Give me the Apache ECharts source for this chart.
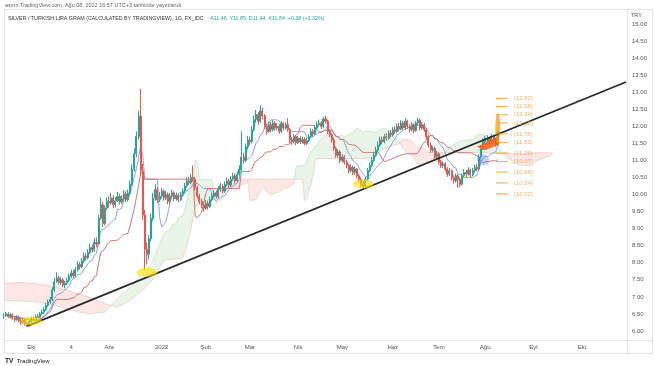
<!DOCTYPE html>
<html><head><meta charset="utf-8">
<script src="https://cdn.jsdelivr.net/npm/echarts@6/dist/echarts.min.js"></script>
<style>html,body{margin:0;padding:0;background:#fff}#c{width:654px;height:366px}</style>
</head><body><div id="c"></div>
<script>
// ---- data ----
const firstOpen = 6.40;
const closes = [
6.45,6.50,6.42,6.48,6.38,6.33,6.40,6.30,6.25,6.32,
6.22,6.18,6.28,6.35,6.32,6.42,6.40,6.50,6.55,6.62,
6.75,6.85,6.92,7.20,7.45,7.55,7.42,7.50,7.35,7.40,
7.48,7.60,7.70,7.62,7.80,7.95,7.88,8.05,8.20,8.15,
8.30,8.45,8.38,8.60,8.55,9.30,9.70,9.15,9.60,9.80,
9.75,9.90,9.70,9.82,9.95,9.78,9.88,10.02,9.85,10.05,
10.30,10.75,11.20,11.70,12.30,10.70,9.40,8.40,8.25,8.70,
9.30,9.90,10.15,9.85,9.95,10.10,9.90,10.00,9.80,9.95,
10.05,9.88,9.98,9.85,10.00,10.10,10.25,10.40,10.35,10.50,
10.45,10.20,9.95,9.80,9.70,9.60,9.75,9.65,9.85,9.95,
10.05,9.95,10.15,10.25,10.10,10.30,10.40,10.28,10.45,10.55,
10.40,10.60,10.75,11.10,11.00,11.40,11.60,11.55,11.90,12.20,
12.35,12.15,12.45,12.30,12.00,11.85,12.05,11.90,12.10,11.95,
12.00,11.85,12.08,11.95,12.05,11.90,11.60,11.55,11.70,11.52,
11.65,11.55,11.62,11.50,11.58,11.70,11.85,11.78,11.95,12.05,
12.10,12.00,12.22,12.15,11.85,11.75,11.60,11.35,11.15,11.25,
11.00,11.10,10.95,10.85,10.70,10.80,10.65,10.75,10.55,10.45,
10.30,10.25,10.45,10.70,10.85,11.00,11.15,11.30,11.45,11.60,
11.55,11.70,11.65,11.80,11.75,11.90,11.85,12.00,11.92,12.10,
11.95,12.15,12.00,11.90,12.05,11.88,12.10,12.18,11.95,12.05,
11.90,11.70,11.45,11.30,11.35,11.10,11.20,10.95,10.85,10.90,
10.75,10.60,10.70,10.50,10.40,10.55,10.45,10.30,10.55,10.65,
10.60,10.72,10.58,10.70,10.80,10.75,11.10,11.35,11.55,11.60,
11.65,11.55,11.70,11.62,11.46,11.84];
const highs = [
6.52,6.56,6.55,6.53,6.51,6.43,6.46,6.44,6.36,6.37,
6.35,6.27,6.33,6.40,6.42,6.48,6.50,6.56,6.62,6.70,
6.82,6.92,7.00,7.28,7.55,7.72,7.62,7.58,7.55,7.47,
7.56,7.68,7.80,7.78,7.88,8.05,8.02,8.14,8.30,8.28,
8.40,8.56,8.52,8.72,8.75,9.40,9.90,9.78,9.68,9.92,
9.95,10.05,9.98,9.92,10.08,10.02,9.98,10.12,10.10,10.15,
10.42,10.88,11.35,11.85,12.45,13.10,10.90,9.55,8.60,8.80,
9.45,10.05,10.30,10.22,10.08,10.20,10.15,10.10,10.06,10.04,
10.14,10.10,10.06,10.04,10.08,10.18,10.34,10.50,10.52,10.60,
10.85,10.52,10.26,10.02,9.88,9.78,9.84,9.82,9.94,10.04,
10.14,10.12,10.24,10.34,10.30,10.38,10.50,10.46,10.54,10.64,
10.62,10.68,10.86,11.85,11.22,11.50,11.72,11.70,12.00,12.32,
12.48,12.42,12.62,12.55,12.36,12.08,12.14,12.12,12.18,12.15,
12.10,12.06,12.15,12.12,12.12,12.24,11.95,11.68,11.78,11.75,
11.72,11.70,11.70,11.68,11.66,11.78,11.94,11.92,12.04,12.14,
12.20,12.16,12.28,12.32,12.20,11.92,11.80,11.66,11.40,11.32,
11.30,11.18,11.15,11.02,10.90,10.88,10.85,10.82,10.78,10.60,
10.50,10.40,10.52,10.78,10.94,11.10,11.24,11.40,11.55,11.70,
11.70,11.78,11.80,11.88,11.90,11.98,12.00,12.08,12.10,12.18,
12.16,12.24,12.20,12.06,12.12,12.10,12.16,12.25,12.22,12.12,
12.10,11.95,11.75,11.52,11.42,11.40,11.28,11.24,11.02,10.98,
10.95,10.80,10.78,10.74,10.56,10.62,10.60,10.50,10.62,10.74,
10.72,10.80,10.76,10.78,10.88,10.90,11.18,11.45,11.65,11.72,
11.74,11.70,11.78,11.76,11.66,11.85];
const lows = [
6.36,6.41,6.38,6.37,6.33,6.27,6.30,6.26,6.19,6.20,
6.16,6.13,6.15,6.24,6.28,6.29,6.36,6.37,6.46,6.50,
6.58,6.70,6.80,6.88,7.15,7.40,7.36,7.35,7.28,7.25,
7.34,7.44,7.55,7.55,7.58,7.74,7.80,7.84,7.98,8.06,
8.10,8.25,8.30,8.32,8.45,8.50,9.25,9.05,9.10,9.55,
9.62,9.70,9.60,9.62,9.78,9.70,9.72,9.82,9.78,9.80,
10.00,10.25,10.68,11.10,11.62,10.55,9.25,7.80,7.95,8.10,
8.62,9.22,9.82,9.75,9.78,9.88,9.82,9.84,9.72,9.74,
9.88,9.80,9.82,9.78,9.80,9.95,10.05,10.20,10.28,10.30,
10.38,10.12,9.88,9.72,9.60,9.50,9.55,9.56,9.60,9.80,
9.90,9.88,9.90,10.08,10.04,10.05,10.24,10.20,10.22,10.40,
10.32,10.35,10.55,10.70,10.90,10.95,11.32,11.45,11.50,11.85,
12.10,12.05,12.10,12.20,11.92,11.76,11.80,11.82,11.85,11.88,
11.88,11.78,11.80,11.88,11.90,11.84,11.52,11.46,11.50,11.45,
11.48,11.48,11.50,11.44,11.45,11.54,11.65,11.70,11.74,11.90,
12.00,11.92,11.96,12.08,11.78,11.68,11.52,11.28,11.08,11.08,
10.92,10.94,10.88,10.78,10.62,10.64,10.58,10.58,10.48,10.38,
10.22,10.15,10.20,10.40,10.65,10.80,10.95,11.10,11.25,11.40,
11.48,11.50,11.58,11.60,11.68,11.70,11.78,11.80,11.85,11.88,
11.88,11.90,11.92,11.82,11.85,11.80,11.84,12.04,11.88,11.90,
11.84,11.62,11.38,11.22,11.24,11.02,11.04,10.88,10.78,10.78,
10.68,10.52,10.54,10.42,10.32,10.35,10.20,10.22,10.26,10.50,
10.52,10.56,10.50,10.54,10.64,10.68,10.72,11.05,11.30,11.48,
11.52,11.48,11.50,11.55,11.40,11.44];

// cloud before full indicator history is available
const earlyCloudBars = [0, 8, 16, 24, 32, 40, 48, 54, 60, 66, 70, 76];
const earlyCloudA    = [6.90, 6.88, 6.85, 6.75, 6.60, 6.50, 6.55, 6.95, 7.28, 7.70, 7.95, 8.85];
const earlyCloudB    = [7.40, 7.42, 7.38, 7.30, 7.15, 7.00, 6.80, 6.70, 6.90, 7.20, 7.44, 8.05];

const totalBars = 297;
const monthLabels    = ['Eki','4','Ara','2022','Şub','Mar','Nis','May','Haz','Tem','Ağu','Eyl','Eki'];
const monthLabelBars = [13, 32, 50, 75, 96, 117, 140, 161, 185, 207, 229, 252, 275];

const trendLine = [[11, 6.14], [296, 13.30]];
const yellowMarks = [[13, 6.29], [68, 7.72], [171, 10.31]];
const blueMarks = [[228, 11.02]];
const orangeStroke = [[235, 11.95]];
const orangeShape = [[225, 11.40], [235, 11.70], [235, 11.45], [229, 11.30]];
const levelBar = 237;
const levels = [12.82, 12.58, 12.34, 12.10, 11.78, 11.53, 11.22, 10.97, 10.66, 10.34, 10.02];

// ---- build ----
const n = closes.length;
const candles = closes.map((c, i) => {
  const o = i === 0 ? firstOpen : closes[i - 1];
  return [o, c, lows[i], highs[i]];
});
function mid(i, len) {
  let hi = -Infinity, lo = Infinity;
  for (let j = Math.max(0, i - len + 1); j <= i; j++) { hi = Math.max(hi, highs[j]); lo = Math.min(lo, lows[j]); }
  return (hi + lo) / 2;
}
const tenkan = closes.map((_, i) => +mid(i, 9).toFixed(3));
const kijun = closes.map((_, i) => +mid(i, 26).toFixed(3));
const cloudX = earlyCloudBars.slice(), cloudA = earlyCloudA.slice(), cloudB = earlyCloudB.slice();
for (let i = 51; i < n; i++) {
  cloudX.push(i + 26);
  cloudA.push((tenkan[i] + kijun[i]) / 2);
  cloudB.push(mid(i, 52));
}
function cloudRuns() {
  const runs = []; let cur = null;
  for (let k = 0; k < cloudX.length; k++) {
    const d = cloudA[k] - cloudB[k]; const s = d >= 0 ? 1 : -1;
    if (cur && cur.s !== s) {
      const k0 = k - 1, d0 = cloudA[k0] - cloudB[k0], t = d0 / (d0 - d);
      const xm = cloudX[k0] + t * (cloudX[k] - cloudX[k0]), ym = cloudA[k0] + t * (cloudA[k] - cloudA[k0]);
      cur.top.push([xm, ym]); cur.bot.push([xm, ym]); runs.push(cur);
      cur = { s, top: [[xm, ym]], bot: [[xm, ym]] };
    }
    if (!cur) cur = { s, top: [], bot: [] };
    cur.top.push([cloudX[k], cloudA[k]]); cur.bot.push([cloudX[k], cloudB[k]]);
  }
  if (cur) runs.push(cur);
  return runs;
}
const runs = cloudRuns();
const cats = Array.from({ length: totalBars }, (_, i) => String(i));
const labelMap = {}; monthLabelBars.forEach((b, k) => labelMap[b] = monthLabels[k]);
const lastClose = closes[n - 1];

const chart = echarts.init(document.getElementById('c'), null, { renderer: 'canvas' });
const font = 'Liberation Sans, Arial, sans-serif';
chart.setOption({
  animation: false,
  backgroundColor: '#fff',
  grid: { left: 3, right: 27, top: 7, bottom: 18 },
  xAxis: {
    type: 'category', data: cats, boundaryGap: true, offset: -8,
    axisLine: { show: false }, axisTick: { show: false }, splitLine: { show: false },
    axisLabel: { interval: 0, margin: 4, fontSize: 6, color: '#555', fontFamily: font,
      formatter: (v) => labelMap[v] || '' }
  },
  yAxis: {
    type: 'value', position: 'right', min: 5.5, max: 15.5, interval: 0.5, scale: true,
    axisLine: { show: false }, axisTick: { show: false }, splitLine: { show: false },
    axisLabel: { margin: 5, fontSize: 6, color: '#555', fontFamily: font, align: 'left',
      formatter: (v) => (v < 5.99 || v > 15.01) ? '' : v.toFixed(2) }
  },
  series: [
    { type: 'custom', name: 'cloud', z: 1, silent: true, clip: true,
      data: [[0, 0]], encode: { x: 0, y: 1 },
      renderItem: (params, api) => {
        const children = [];
        runs.forEach(r => {
          const pts = r.top.map(p => api.coord(p)).concat(r.bot.slice().reverse().map(p => api.coord(p)));
          children.push({ type: 'polygon', shape: { points: pts },
            style: { fill: r.s > 0 ? 'rgba(76,175,80,0.13)' : 'rgba(244,67,54,0.13)' } });
        });
        return { type: 'group', children };
      } },
    { type: 'line', name: 'spanA', z: 2, silent: true, showSymbol: false,
      data: cloudX.map((x, k) => [x, cloudA[k]]), lineStyle: { width: 0.7, color: 'rgba(76,175,80,0.3)' } },
    { type: 'line', name: 'spanB', z: 2, silent: true, showSymbol: false,
      data: cloudX.map((x, k) => [x, cloudB[k]]), lineStyle: { width: 0.7, color: 'rgba(200,80,70,0.3)' } },
    { type: 'line', name: 'tenkan', z: 3, silent: true, showSymbol: false,
      data: tenkan, lineStyle: { width: 0.9, color: '#8595e6' } },
    { type: 'line', name: 'kijun', z: 3, silent: true, showSymbol: false,
      data: kijun, lineStyle: { width: 0.9, color: '#c46a64' } },
    { type: 'candlestick', name: 'price', z: 4, barWidth: '72%', data: candles,
      itemStyle: { color: '#26a69a', color0: '#ef5350', borderColor: '#26a69a', borderColor0: '#ef5350', borderWidth: 1 },
      markLine: { silent: true, symbol: 'none', lineStyle: { opacity: 0 },
        data: [{ yAxis: lastClose }],
        label: { position: 'end', distance: 2, formatter: lastClose.toFixed(2), color: '#fff', fontSize: 6,
          fontFamily: font, backgroundColor: '#26a69a', padding: [1, 3] } } },
    { type: 'custom', name: 'orangeArea', z: 5, silent: true, data: [[0, 0]], encode: { x: 0, y: 1 },
      renderItem: (params, api) => ({ type: 'polygon', shape: { points: orangeShape.map(p => api.coord(p)) },
        style: { fill: 'rgba(255,90,20,0.85)' } }) },
    { type: 'scatter', name: 'orangeStroke', z: 5, silent: true, data: orangeStroke,
      symbol: 'circle', symbolSize: [5, 30], itemStyle: { color: 'rgba(255,152,0,0.9)' } },
    { type: 'line', name: 'trend', z: 6, silent: true, showSymbol: false, data: trendLine,
      lineStyle: { width: 1.8, color: '#2a2a2a' } },
    { type: 'scatter', name: 'yellow', z: 7, silent: true, data: yellowMarks,
      symbol: 'circle', symbolSize: [21, 9], itemStyle: { color: 'rgba(255,225,0,0.75)' } },
    { type: 'scatter', name: 'blue', z: 7, silent: true, data: blueMarks,
      symbol: 'circle', symbolSize: [12, 11], itemStyle: { color: 'rgba(90,120,240,0.45)' } },
    { type: 'scatter', name: 'levels', z: 7, silent: true,
      data: levels.map(v => [levelBar, v]), symbol: 'rect', symbolSize: [12, 1.2],
      itemStyle: { color: '#f6a23c' },
      label: { show: true, position: 'right', distance: 6, fontSize: 6, color: '#f2a03d', fontFamily: font,
        formatter: (p) => '(' + p.value[1].toFixed(2) + ')' } }
  ],
  graphic: [
    { type: 'rect', silent: true, z: 100, shape: { x: 4.5, y: 9.5, width: 648, height: 344 },
      style: { fill: 'none', stroke: '#e0e3eb', lineWidth: 1 } },
    { type: 'line', silent: true, z: 100, shape: { x1: 627.5, y1: 9.5, x2: 627.5, y2: 353.5 }, style: { stroke: '#e0e3eb', lineWidth: 1 } },
    { type: 'line', silent: true, z: 100, shape: { x1: 4.5, y1: 340.5, x2: 652.5, y2: 340.5 }, style: { stroke: '#e0e3eb', lineWidth: 1 } },
    { type: 'text', silent: true, z: 100, left: 5, top: 2,
      style: { text: 'asmn TradingView.com, Ağu 08, 2022 16:57 UTC+3 tarihinde yayınlandı', fontSize: 5.5, fill: '#666', fontFamily: font } },
    { type: 'text', silent: true, z: 100, left: 8, top: 13,
      style: { text: '{a|SILVER / TURKISH LIRA GRAM (CALCULATED BY TRADINGVIEW), 1G, FX_IDC}  {b|A11.46  Y11.85  D11.44  K11.84  +0.38 (+3.32%)}',
        rich: { a: { fontSize: 5.3, fill: '#333', fontFamily: font }, b: { fontSize: 5.3, fill: '#26a69a', fontFamily: font } } } },
    { type: 'text', silent: true, z: 100, left: 631, top: 12, style: { text: 'TRY', fontSize: 5.5, fill: '#555', fontFamily: font } },
    { type: 'text', silent: true, z: 100, left: 5, top: 355,
      style: { text: '{a|TV} {b|TradingView}', rich: { a: { fontSize: 6.5, fontWeight: 'bold', fill: '#131722', fontFamily: font }, b: { fontSize: 6, fill: '#131722', fontFamily: font } } } }
  ]
});
</script></body></html>
